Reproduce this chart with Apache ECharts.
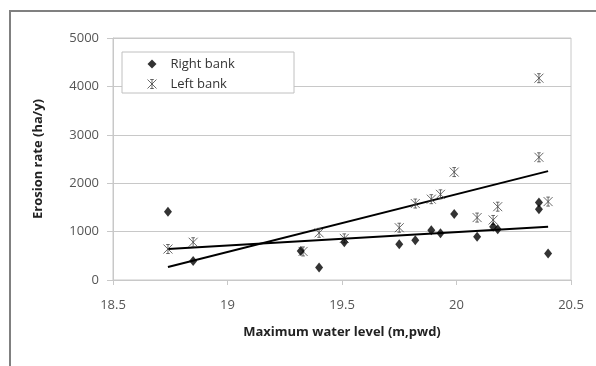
<!DOCTYPE html>
<html>
<head>
<meta charset="utf-8">
<script src="https://cdn.jsdelivr.net/npm/echarts@6/dist/echarts.min.js"></script>
<style>html,body{margin:0;padding:0;background:#fff}#c{width:596px;height:366px}</style>
</head>
<body>
<div id="c"></div>
<script>
// Right bank (diamonds)
var rightX = [18.74, 18.85, 19.32, 19.40, 19.51, 19.75, 19.82, 19.89, 19.93, 19.99, 20.09, 20.16, 20.18, 20.36, 20.36, 20.40];
var rightY = [1410, 390, 600, 260, 780, 740, 820, 1030, 965, 1365, 895, 1100, 1050, 1600, 1460, 545];
// Left bank (stars)
var leftX = [18.74, 18.85, 19.33, 19.40, 19.51, 19.75, 19.82, 19.89, 19.93, 19.99, 20.09, 20.16, 20.18, 20.36, 20.36, 20.40];
var leftY = [640, 780, 590, 975, 860, 1080, 1580, 1670, 1770, 2230, 1290, 1240, 1515, 2535, 4170, 1620];
// Trend lines (endpoints)
var rightTrendX = [18.74, 20.40];
var rightTrendY = [640, 1100];
var leftTrendX = [18.74, 20.40];
var leftTrendY = [270, 2250];
var xTicks = [18.5, 19, 19.5, 20, 20.5];
var yTicks = [0, 1000, 2000, 3000, 4000, 5000];

function pairs(xs, ys){ return xs.map(function(x,i){ return [x, ys[i]]; }); }

var starPath = 'path://M0,0L10,10M10,0L0,10M5,0L5,10M3,0L7,0M3,10L7,10';
var font = '"Open Sans", "Liberation Sans", sans-serif';

var chart = echarts.init(document.getElementById('c'), null, {renderer: 'canvas'});
chart.setOption({
  animation: false,
  backgroundColor: '#fff',
  grid: {left: 113, right: 25, top: 38, bottom: 86, show: true, borderColor: '#c8c8c8', borderWidth: 1},
  graphic: [
    {type: 'rect', shape: {x: 10, y: 11, width: 700, height: 500}, style: {fill: 'none', stroke: '#808080', lineWidth: 2}, z: 1, silent: true},
    {type: 'rect', shape: {x: 122, y: 52, width: 172, height: 41}, style: {fill: '#fff', stroke: '#c0c0c0', lineWidth: 1}, z: 3, silent: true}
  ],
  legend: {
    data: [
      {name: 'Right bank', icon: 'diamond', itemStyle: {color: '#000'}},
      {name: 'Left bank', icon: starPath, itemStyle: {color: 'transparent', borderColor: '#444', borderWidth: 1}}
    ],
    orient: 'vertical', left: 142, top: 52, itemWidth: 9, itemHeight: 9, itemGap: 6,
    textStyle: {fontFamily: font, fontSize: 13, color: '#333', lineHeight: 14, padding: [0,0,0,9]},
    z: 4
  },
  xAxis: {
    type: 'value', min: 18.5, max: 20.5, interval: 0.5,
    name: 'Maximum water level (m,pwd)', nameLocation: 'middle', nameGap: 46,
    nameTextStyle: {fontFamily: font, fontSize: 13, fontWeight: 'bold', color: '#222'},
    axisLine: {show: true, lineStyle: {color: '#c8c8c8', width: 1}},
    axisTick: {show: true, length: 5, lineStyle: {color: '#c8c8c8'}},
    axisLabel: {fontFamily: font, fontSize: 13, color: '#555', margin: 19,
      formatter: function(v){ return xTicks.indexOf(v) >= 0 ? String(v) : ''; }},
    splitLine: {show: false}
  },
  yAxis: {
    type: 'value', min: 0, max: 5000, interval: 1000,
    name: 'Erosion rate (ha/y)', nameLocation: 'middle', nameGap: 68,
    nameTextStyle: {fontFamily: font, fontSize: 13, fontWeight: 'bold', color: '#222'},
    axisLine: {show: true, lineStyle: {color: '#c8c8c8', width: 1}},
    axisTick: {show: true, length: 6, lineStyle: {color: '#c8c8c8'}},
    axisLabel: {fontFamily: font, fontSize: 13, color: '#555', margin: 14,
      formatter: function(v){ return yTicks.indexOf(v) >= 0 ? String(v) : ''; }},
    splitLine: {show: true, lineStyle: {color: '#c8c8c8', width: 1}}
  },
  series: [
    {name: 'Right bank trend', type: 'line', data: pairs(rightTrendX, rightTrendY), symbol: 'none',
      lineStyle: {color: '#000', width: 2}, z: 2},
    {name: 'Left bank trend', type: 'line', data: pairs(leftTrendX, leftTrendY), symbol: 'none',
      lineStyle: {color: '#000', width: 2}, z: 2},
    {name: 'Left bank', type: 'scatter', data: pairs(leftX, leftY), symbol: starPath, symbolSize: 9,
      itemStyle: {color: 'transparent', borderColor: '#444', borderWidth: 1}, z: 3},
    {name: 'Right bank', type: 'scatter', data: pairs(rightX, rightY), symbol: 'diamond', symbolSize: [8, 10],
      itemStyle: {color: '#000'}, z: 4}
  ]
});
</script>
</body>
</html>
